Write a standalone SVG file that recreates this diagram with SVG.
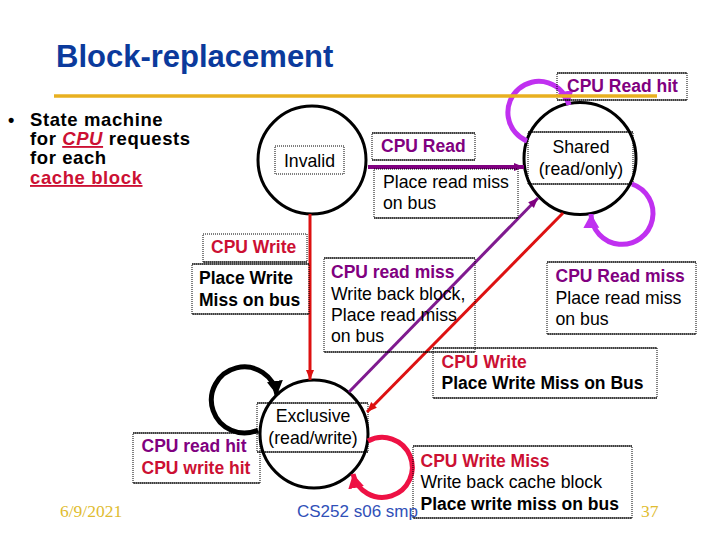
<svg xmlns="http://www.w3.org/2000/svg" width="720" height="540" viewBox="0 0 720 540">
<style>
text{font-family:"Liberation Sans",Arial,sans-serif;}
.r{font-size:17.7px;fill:#000;}
.b{font-size:17.5px;font-weight:bold;}
.pu{fill:#800080;}
.rd{fill:#cc1033;}
.bk{fill:#000;}
.st{fill:none;stroke:#000;stroke-width:3;}
.bx{fill:none;stroke:#000;stroke-width:1;stroke-dasharray:1 1;}
.bl{fill:none;stroke:#000;stroke-width:1;}
.ser{font-family:"Liberation Serif","Times New Roman",serif;font-size:17.5px;fill:#e0bc30;}
</style>
<defs>
<marker id="ap" markerUnits="userSpaceOnUse" markerWidth="12" markerHeight="10" refX="10" refY="4" orient="auto"><path d="M0,0 L10,4 L0,8 z" fill="#800080"/></marker>
<marker id="ar" markerUnits="userSpaceOnUse" markerWidth="12" markerHeight="10" refX="10" refY="4" orient="auto"><path d="M0,0 L10,4 L0,8 z" fill="#dd1111"/></marker>
<marker id="lv" markerUnits="userSpaceOnUse" markerWidth="18" markerHeight="18" refX="14" refY="8" orient="auto"><path d="M0,0 L14,8 L0,16 z" fill="#c030f0"/></marker>
<marker id="lk" markerUnits="userSpaceOnUse" markerWidth="18" markerHeight="18" refX="14" refY="8" orient="auto"><path d="M0,0 L14,8 L0,16 z" fill="#000"/></marker>
<marker id="lr" markerUnits="userSpaceOnUse" markerWidth="18" markerHeight="18" refX="14" refY="8" orient="auto"><path d="M0,0 L14,8 L0,16 z" fill="#ee1144"/></marker>
</defs>
<rect width="720" height="540" fill="#fff"/>

<g id="title">
<text x="56" y="67" font-size="31" font-weight="bold" fill="#0b3a9c">Block-replacement</text>
</g>

<g id="bullet">
<text x="8" y="126" font-size="18" font-weight="bold">•</text>
<text font-size="18.5" font-weight="bold" letter-spacing="0.6" fill="#000">
<tspan x="30" y="126">State machine</tspan>
<tspan x="30" y="145">for <tspan fill="#cc1033" font-style="italic" text-decoration="underline">CPU</tspan> requests</tspan>
<tspan x="30" y="164">for each</tspan>
<tspan x="30" y="184" fill="#cc1033" text-decoration="underline">cache block</tspan>
</text>
</g>

<g id="node-invalid">
<circle class="st" cx="312" cy="160" r="54"/>
<rect class="bx" x="275" y="146" width="69" height="28"/>
<text class="r" x="309.5" y="167" text-anchor="middle">Invalid</text>
</g>

<g id="node-shared">
<circle class="st" cx="580" cy="158.5" r="56"/>
<rect class="bx" x="528" y="132" width="105" height="52"/>
<path class="bl" d="M528 132 H633 M528 184 H633"/>
<text class="r" x="581" y="153" text-anchor="middle">Shared</text>
<text class="r" x="581" y="175" text-anchor="middle">(read/only)</text>
</g>

<g id="node-exclusive">
<circle class="st" cx="314" cy="434" r="54"/>
<rect class="bx" x="257" y="403" width="111" height="49"/>
<path class="bl" d="M257 403 H368 M257 452 H368"/>
<text class="r" x="313" y="422" text-anchor="middle">Exclusive</text>
<text class="r" x="313" y="444" text-anchor="middle">(read/write)</text>
</g>

<g id="connectors">
<path d="M368 167 L524 167" stroke="#800080" stroke-width="4" fill="none" marker-end="url(#ap)"/>
<path d="M310 214 L310 380" stroke="#dd1111" stroke-width="3" fill="none" marker-end="url(#ar)"/>
<path d="M349 392 L538 198" stroke="#7f1a8f" stroke-width="3" fill="none" marker-end="url(#ap)"/>
<path d="M563 213 L367 412" stroke="#dd1111" stroke-width="3" fill="none" marker-end="url(#ar)"/>
<path d="M527 141 A31 31 0 1 1 569 105" stroke="#c030f0" stroke-width="5" fill="none" marker-end="url(#lv)"/>
<path d="M632 184 A31 31 0 1 1 591 214" stroke="#c030f0" stroke-width="5" fill="none" marker-end="url(#lv)"/>
<path d="M258 430 A33 33 0 1 1 277 395" stroke="#000" stroke-width="5" fill="none" marker-end="url(#lk)"/>
<path d="M368 441 A30 30 0 1 1 353 474" stroke="#ee1144" stroke-width="5" fill="none" marker-end="url(#lr)"/>
</g>

<g id="label-cpu-read">
<rect class="bx" x="372" y="133" width="103" height="27"/>
<path class="bl" d="M372 133 H475 M372 160 H475"/>
<text class="b pu" x="381" y="152">CPU Read</text>
</g>
<g id="label-place-read-miss">
<rect class="bx" x="374" y="169" width="144" height="49"/>
<path class="bl" d="M374 218 H518"/>
<text class="r"><tspan x="383" y="188">Place read miss</tspan><tspan x="383" y="209">on bus</tspan></text>
</g>
<g id="label-cpu-read-hit">
<rect class="bx" x="557" y="73" width="130" height="27"/>
<path class="bl" d="M557 73 H687 M557 100 H687"/>
<text class="b pu" x="567" y="92">CPU Read hit</text>
</g>
<g id="gold-rule">
<path d="M54 96 H657" stroke="#e8b020" stroke-width="3.5"/>
</g>
<g id="label-cpu-write">
<rect class="bx" x="203" y="234" width="104" height="28"/>
<path class="bl" d="M203 262 H307"/>
<text class="b rd" x="211" y="253">CPU Write</text>
</g>
<g id="label-place-write-miss">
<rect class="bx" x="192" y="264" width="117" height="50"/>
<path class="bl" d="M192 264 H309 M192 314 H309"/>
<text class="b bk"><tspan x="199" y="284">Place Write</tspan><tspan x="199" y="306">Miss on bus</tspan></text>
</g>
<g id="label-cpu-read-miss-wb">
<rect class="bx" x="324" y="258" width="151" height="94"/>
<path class="bl" d="M324 258 H475 M324 352 H475"/>
<text class="b pu" x="331" y="278">CPU read miss</text>
<text class="r"><tspan x="331" y="300">Write back block,</tspan><tspan x="331" y="321">Place read miss</tspan><tspan x="331" y="342">on bus</tspan></text>
</g>
<g id="label-cpu-read-miss">
<rect class="bx" x="547" y="262" width="149" height="72"/>
<path class="bl" d="M547 262 H696 M547 334 H696"/>
<text class="b pu" x="555.5" y="282">CPU Read miss</text>
<text class="r"><tspan x="555.5" y="304">Place read miss</tspan><tspan x="555.5" y="325">on bus</tspan></text>
</g>
<g id="label-cpu-write-2">
<rect class="bx" x="433" y="348" width="224" height="50"/>
<path class="bl" d="M433 348 H657 M433 398 H657"/>
<text class="b rd" x="441.5" y="368">CPU Write</text>
<text class="b bk" x="441.5" y="389">Place Write Miss on Bus</text>
</g>
<g id="label-hits">
<rect class="bx" x="133" y="433" width="127" height="50"/>
<path class="bl" d="M133 433 H260 M133 483 H260"/>
<text class="b pu" x="141.5" y="452">CPU read hit</text>
<text class="b rd" x="141.5" y="474">CPU write hit</text>
</g>
<g id="label-cpu-write-miss">
<rect class="bx" x="413" y="446" width="219" height="72"/>
<path class="bl" d="M413 446 H632 M413 518 H632"/>
<text class="b rd" x="420.5" y="467">CPU Write Miss</text>
<text class="r" x="420.5" y="488">Write back cache block</text>
<text class="b bk" x="420.5" y="510">Place write miss on bus</text>
</g>

<g id="footer">
<text class="ser" x="60" y="517">6/9/2021</text>
<text x="297" y="517" font-size="17" fill="#3050b8">CS252 s06 smp</text>
<text class="ser" x="641" y="517">37</text>
</g>
</svg>
